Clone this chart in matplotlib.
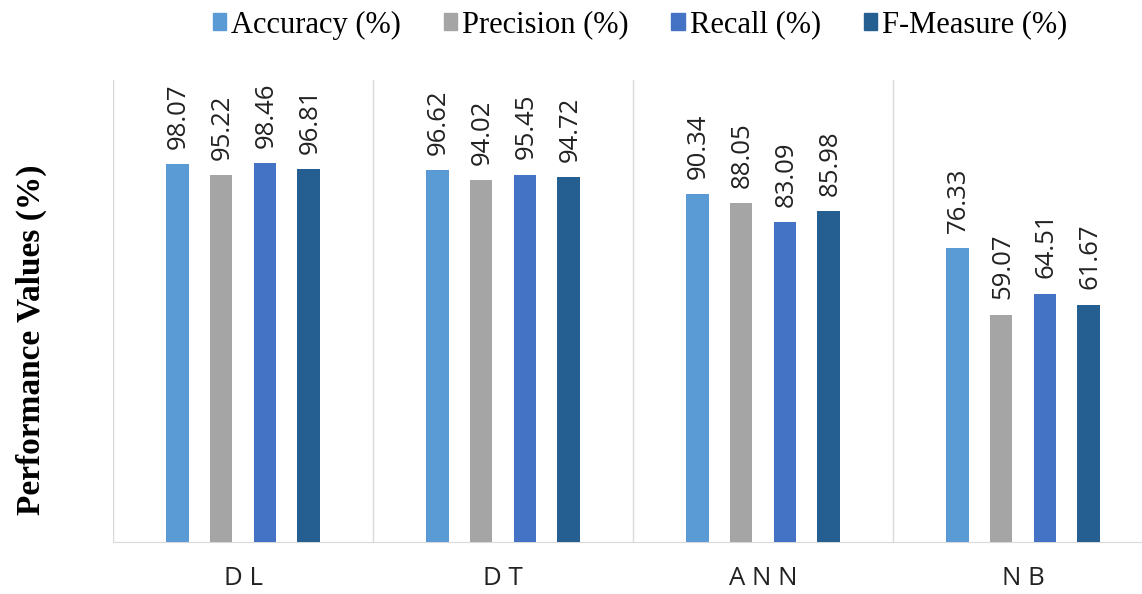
import numpy as np
import matplotlib.pyplot as plt
from matplotlib.patches import Patch

models = ['DL', 'DT', 'ANN', 'NB']
metrics = ['Accuracy (%)', 'Precision (%)', 'Recall (%)', 'F-Measure (%)']
accuracy = [98.07, 96.62, 90.34, 76.33]
precision = [95.22, 94.02, 88.05, 59.07]
recall = [98.46, 95.45, 83.09, 64.51]
fmeasure = [96.81, 94.72, 85.98, 61.67]

colors = ['#5B9BD5', '#A5A5A5', '#4472C4', '#255E91']
series = [accuracy, precision, recall, fmeasure]

fig = plt.figure(figsize=(11.42, 5.94), dpi=100)
# axes run a little past the right edge, like the cropped source figure
ax = fig.add_axes([113/1142, 52/594, 1040/1142, 462/594])

x = np.arange(len(models))
step = 0.169
width = 0.088
for i, (vals, c) in enumerate(zip(series, colors)):
    pos = x + (i - 1.5)*step
    ax.bar(pos, vals, width=width, color=c, zorder=3)
    for p, v in zip(pos, vals):
        ax.annotate('%.2f' % v, (p, v), xytext=(1, 11), textcoords='offset points',
                    rotation=90, ha='center', va='bottom', fontsize=18.5,
                    family='Open Sans', color='#222222')

ax.set_xlim(-0.5, 3.5)
ax.set_ylim(0, 120)
for b in np.arange(-0.5, 4, 1):
    ax.axvline(b, color='#d9d9d9', lw=1, zorder=1)

for s in ['top', 'right', 'left']:
    ax.spines[s].set_visible(False)
ax.spines['bottom'].set_color('#d9d9d9')
ax.set_yticks([])
ax.set_xticks(x)
ax.set_xticklabels([' '.join(m) for m in models], family='Open Sans', fontsize=18.5, color='#222222')
ax.tick_params(axis='x', length=0, pad=17)

handles = [Patch(color=c) for c in colors]
fig.legend(handles, metrics, loc='center', bbox_to_anchor=(640/1142, 1 - 25/594), ncol=4,
           frameon=False, prop={'family': 'Liberation Serif', 'size': 22},
           handlelength=0.45, handleheight=0.45, handletextpad=0.15, columnspacing=1.4)

fig.text(31/1142, 1 - 340/594, 'Performance Values (%)', rotation=90, ha='center', va='center',
         family='Liberation Serif', fontweight='bold', fontsize=24)

fig.savefig('out.png', dpi=100)
